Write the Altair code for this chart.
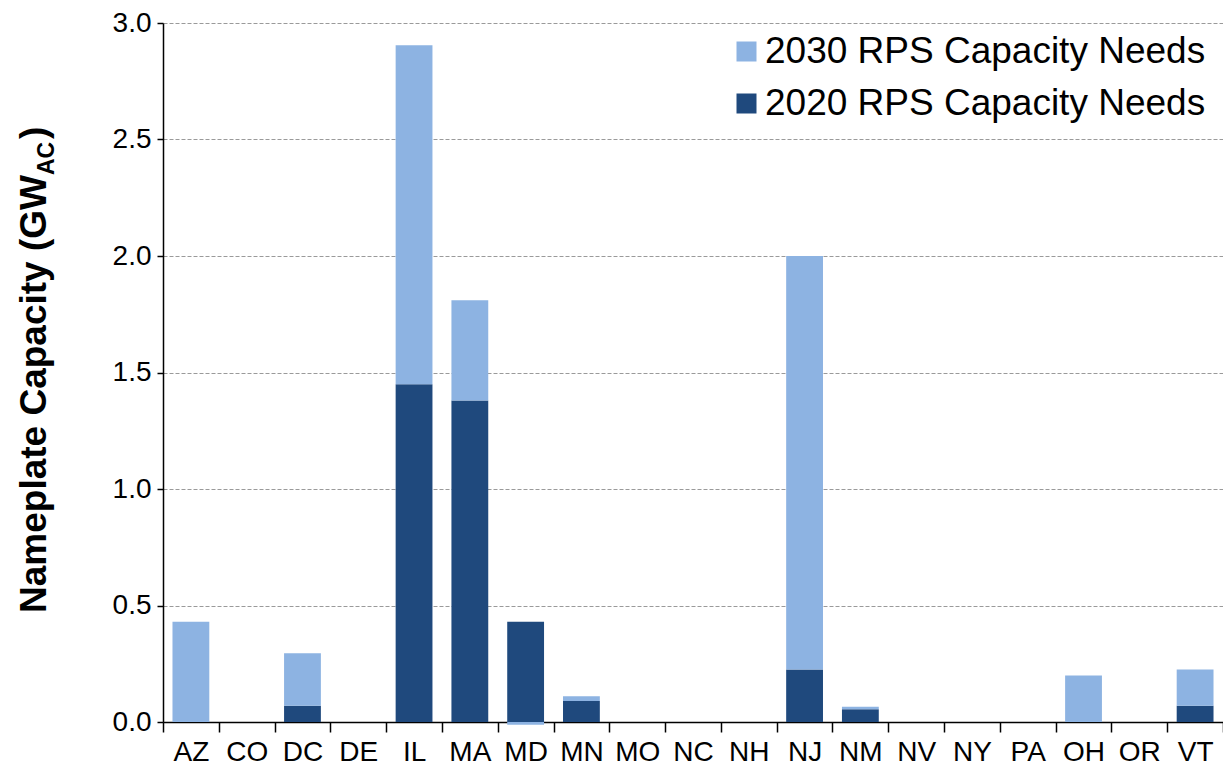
import altair as alt
import pandas as pd

# ---- data ----
states = ["AZ", "CO", "DC", "DE", "IL", "MA", "MD", "MN", "MO", "NC",
          "NH", "NJ", "NM", "NV", "NY", "PA", "OH", "OR", "VT"]
needs_2020 = [0.0, 0.0, 0.07, 0.0, 1.45, 1.38, 0.43, 0.09, 0.0, 0.0,
              0.0, 0.225, 0.055, 0.0, 0.0, 0.0, 0.0, 0.0, 0.07]
# additional need on top of 2020 (stacked segment shown as "2030")
needs_2030_extra = [0.43, 0.0, 0.225, 0.0, 1.455, 0.43, -0.012, 0.02, 0.0, 0.0,
                    0.0, 1.775, 0.01, 0.0, 0.0, 0.0, 0.20, 0.0, 0.155]
series_names = ["2030 RPS Capacity Needs", "2020 RPS Capacity Needs"]
series_colors = ["#8DB3E2", "#1F497D"]
y_ticks = [0.0, 0.5, 1.0, 1.5, 2.0, 2.5, 3.0]
title_main = ["Nameplate Capacity (GW"]
title_sub = ["AC"]
title_close = [")"]

rows = []
for s, a, b in zip(states, needs_2020, needs_2030_extra):
    rows.append({"state": s, "series": series_names[1], "value": a, "stack_order": 0})
    rows.append({"state": s, "series": series_names[0], "value": b, "stack_order": 1})
df = pd.DataFrame(rows)

FONT = "Liberation Sans"

bars = alt.Chart(df).mark_bar(width=alt.RelativeBandSize(0.66)).encode(
    x=alt.X("state:N", sort=states,
            scale=alt.Scale(paddingInner=0, paddingOuter=0),
            axis=alt.Axis(title=None, labelAngle=0, labelFontSize=28, labelFont=FONT,
                          labelColor="black", tickBand="extent", tickSize=10,
                          tickWidth=1.5, tickColor="black", domainColor="black",
                          domainWidth=1.5, labelPadding=6, grid=False)),
    y=alt.Y("value:Q", stack="zero",
            scale=alt.Scale(domain=[0, 3], nice=False, zero=True),
            axis=alt.Axis(title=None, values=y_ticks, format=".1f", labelFontSize=28,
                          labelFont=FONT, labelColor="black", tickSize=6, tickWidth=1.5,
                          tickColor="black", domainColor="black", domainWidth=1.5,
                          labelPadding=6, grid=True, gridColor="#9a9a9a",
                          gridDash=[4, 2], gridWidth=1)),
    color=alt.Color("series:N",
                    scale=alt.Scale(domain=series_names, range=series_colors),
                    legend=alt.Legend(title=None, orient="none", legendX=565, legendY=10,
                                      direction="vertical", symbolType="square",
                                      symbolSize=400, symbolStrokeWidth=0,
                                      symbolOpacity=1, labelFontSize=37,
                                      labelFont=FONT, labelColor="black",
                                      labelOffset=0, rowPadding=14, padding=0,
                                      labelLimit=700)),
    order=alt.Order("stack_order:Q", sort="ascending"),
)

t_main = alt.Chart(pd.DataFrame({"t": title_main})).mark_text(
    angle=270, align="right", baseline="alphabetic", font=FONT,
    fontWeight="bold", fontSize=37, color="black"
).encode(x=alt.value(-117), y=alt.value(152), text="t:N")

t_sub = alt.Chart(pd.DataFrame({"t": title_sub})).mark_text(
    angle=270, align="left", baseline="alphabetic", font=FONT,
    fontWeight="bold", fontSize=23, color="black"
).encode(x=alt.value(-109), y=alt.value(152), text="t:N")

t_close = alt.Chart(pd.DataFrame({"t": title_close})).mark_text(
    angle=270, align="left", baseline="alphabetic", font=FONT,
    fontWeight="bold", fontSize=37, color="black"
).encode(x=alt.value(-117), y=alt.value(116), text="t:N")

chart = alt.layer(bars, t_main, t_sub, t_close).properties(
    width=1060, height=699,
    padding={"left": 155, "top": 15, "right": 0, "bottom": 45},
    autosize=alt.AutoSizeParams(type="none"),
    background="white",
).configure_view(stroke=None)

chart.save("out.html", embed_options={"renderer": "svg", "actions": False})
